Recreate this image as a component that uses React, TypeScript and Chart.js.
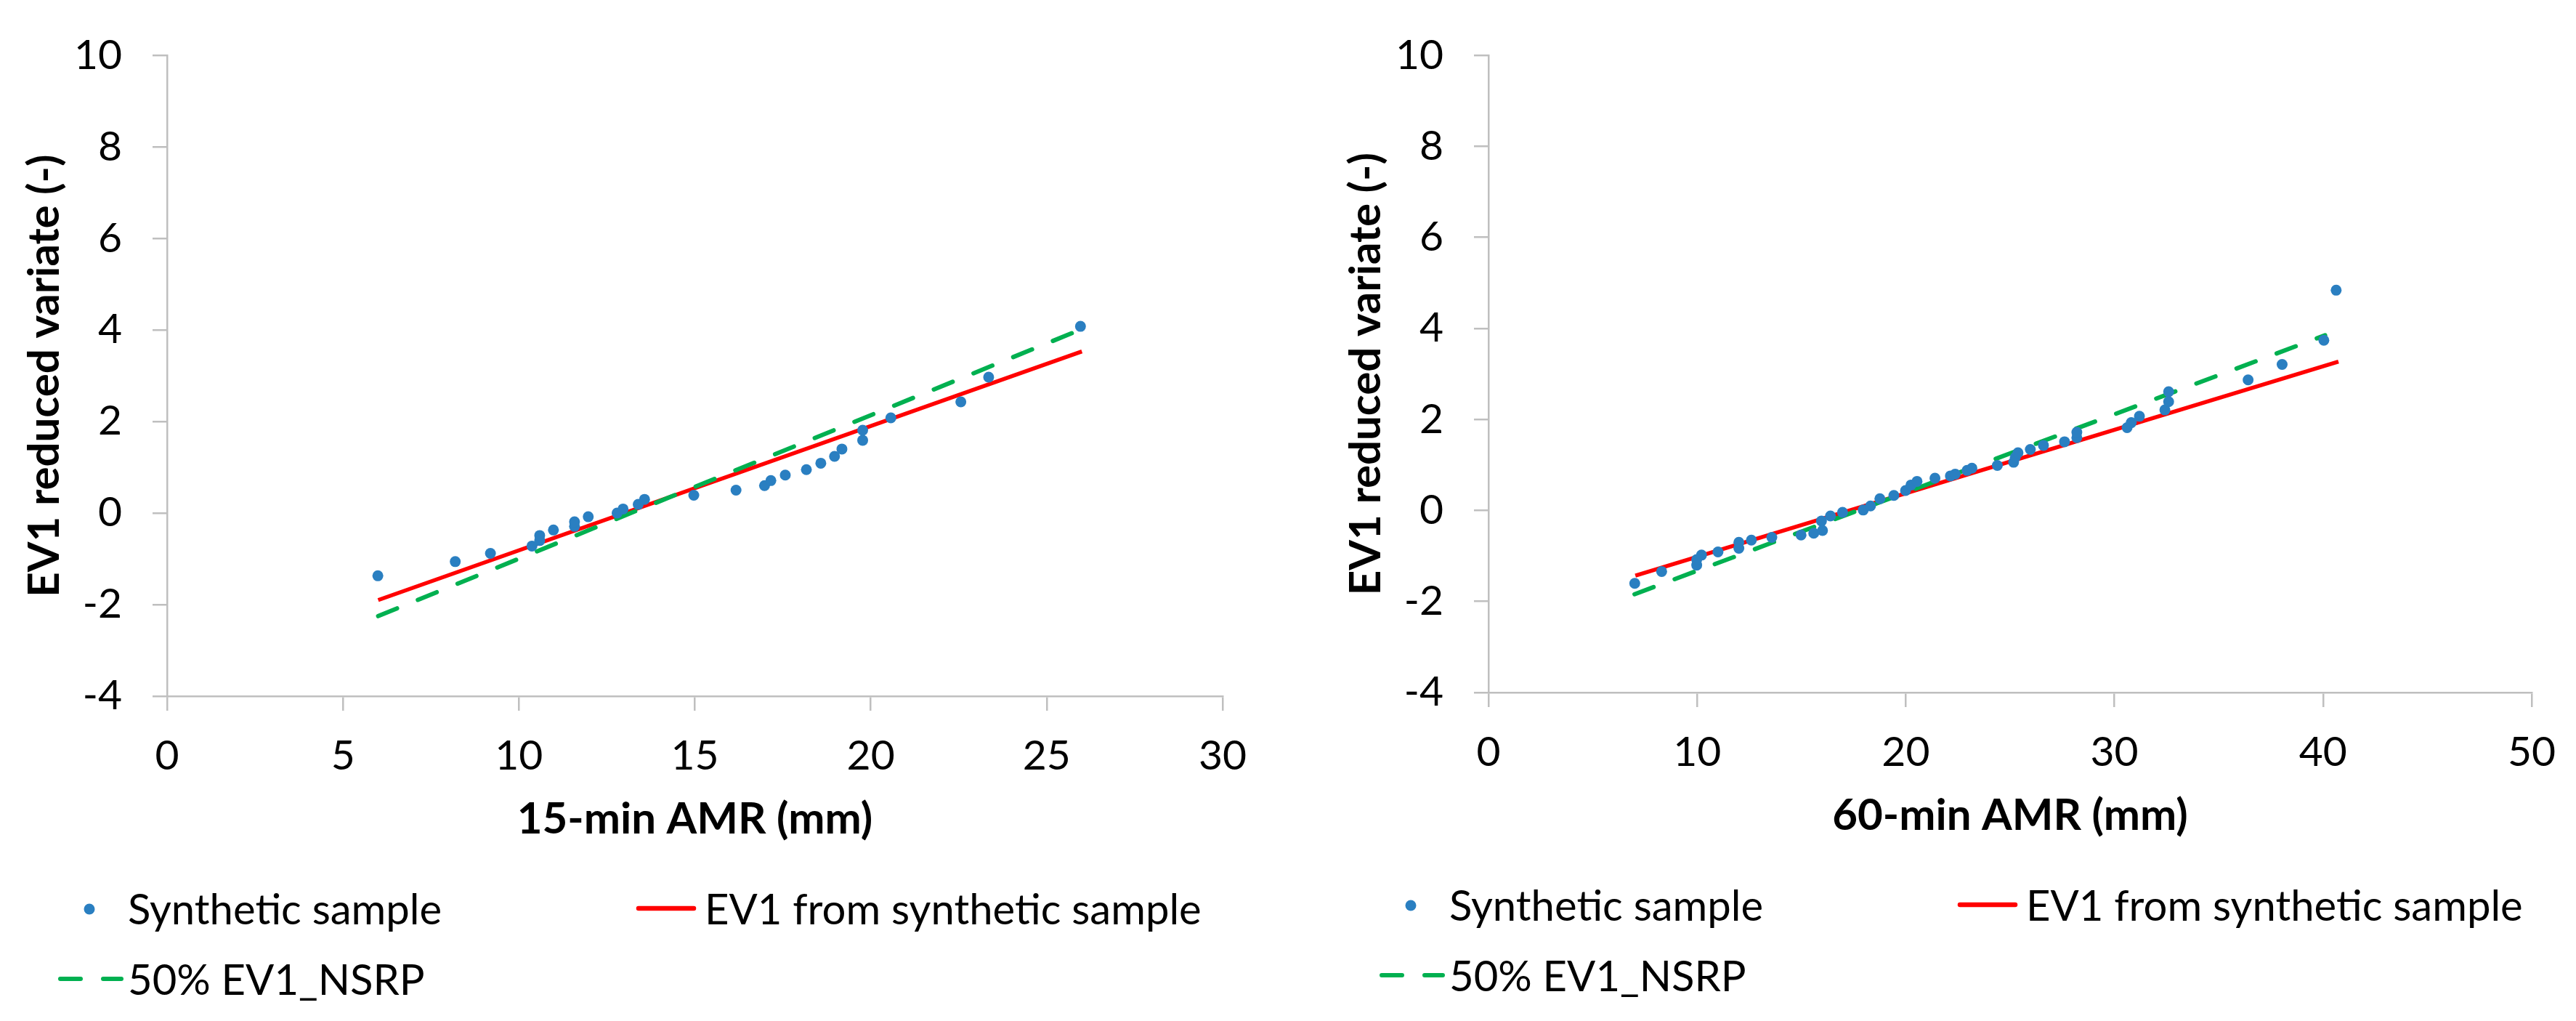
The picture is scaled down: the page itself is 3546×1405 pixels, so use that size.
// Two Excel-style Gumbel (EV1) plots side by side, drawn with Chart.js.
import { useEffect, useRef } from "react";
import { Chart, registerables } from "chart.js";

Chart.register(...registerables);

const FONT = "Lato, 'Open Sans', sans-serif";
const BLUE = "#2A7FC1";
const RED = "#FF0000";
const GREEN = "#00B050";
const AXIS = "#BFBFBF";
const W = 1773;
const H = 1405;

// ---- data ----
const legendLabels = ["Synthetic sample", "EV1 from synthetic sample", "50% EV1_NSRP"];
const yTicks = [-4, -2, 0, 2, 4, 6, 8, 10];

// 15-min
const amr15 = [5.99, 8.19, 9.19, 10.37, 10.59, 10.59, 10.98, 11.58, 11.58, 11.97, 12.79, 12.96, 13.39, 13.57, 14.97, 16.17, 16.98, 17.16, 17.57, 18.17, 18.58, 18.97, 19.18, 19.77, 19.77, 20.57, 22.56, 23.35, 25.96];
const ev15 = [-1.37, -1.06, -0.88, -0.72, -0.6, -0.49, -0.37, -0.29, -0.19, -0.08, 0.0, 0.09, 0.19, 0.3, 0.39, 0.5, 0.6, 0.71, 0.83, 0.95, 1.09, 1.24, 1.4, 1.59, 1.81, 2.08, 2.43, 2.97, 4.08];
const fit15X = [6, 26];
const fit15Y = [-1.9, 3.53];
const nsrp15X = [6, 26];
const nsrp15Y = [-2.25, 4.02];
const xTicks15 = [0, 5, 10, 15, 20, 25, 30];

// 60-min
const amr60 = [7.01, 8.3, 9.98, 9.98, 10.21, 11.0, 12.0, 12.0, 12.6, 13.58, 14.98, 15.59, 15.96, 16.01, 16.39, 16.97, 17.96, 18.31, 18.76, 19.43, 19.99, 20.25, 20.54, 21.4, 22.14, 22.37, 22.94, 23.17, 24.39, 25.17, 25.25, 25.38, 25.97, 26.6, 27.61, 28.2, 28.2, 30.61, 30.81, 31.2, 32.42, 32.6, 32.6, 36.41, 38.04, 40.04, 40.63];
const ev60 = [-1.6, -1.34, -1.2, -1.08, -0.98, -0.91, -0.83, -0.7, -0.65, -0.59, -0.54, -0.5, -0.23, -0.44, -0.12, -0.04, 0.01, 0.1, 0.26, 0.33, 0.44, 0.56, 0.64, 0.71, 0.76, 0.8, 0.88, 0.93, 0.99, 1.06, 1.17, 1.27, 1.34, 1.43, 1.51, 1.6, 1.72, 1.82, 1.93, 2.07, 2.21, 2.39, 2.61, 2.87, 3.21, 3.74, 4.84];
const fit60X = [7.04, 40.74];
const fit60Y = [-1.43, 3.27];
const nsrp60X = [7.0, 40.1];
const nsrp60Y = [-1.84, 3.85];
const xTicks60 = [0, 10, 20, 30, 40, 50];

const pts = (xs: number[], ys: number[]) => xs.map((x, i) => ({ x, y: ys[i] }));

// Excel-like legend: two columns, placed relative to the plot area
const excelLegend = {
  id: "excelLegend",
  afterDraw(chart: any) {
    const { ctx, chartArea: a } = chart;
    const ds = chart.data.datasets;
    const r1 = a.bottom + 292;
    const r2 = a.bottom + 389;
    ctx.save();
    ctx.font = `58px ${FONT}`;
    ctx.textBaseline = "middle";
    ctx.textAlign = "left";

    ctx.fillStyle = ds[0].backgroundColor;
    ctx.beginPath();
    ctx.arc(a.left - 107, r1 + 1, 7.5, 0, Math.PI * 2);
    ctx.fill();

    ctx.lineCap = "round";
    ctx.strokeStyle = ds[1].borderColor;
    ctx.lineWidth = 6.5;
    ctx.beginPath();
    ctx.moveTo(a.left + 649, r1);
    ctx.lineTo(a.left + 725, r1);
    ctx.stroke();

    ctx.strokeStyle = ds[2].borderColor;
    ctx.lineWidth = ds[2].borderWidth;
    ctx.setLineDash(ds[2].borderDash);
    ctx.beginPath();
    ctx.moveTo(a.left - 147, r2);
    ctx.lineTo(a.left - 63, r2);
    ctx.stroke();
    ctx.setLineDash([]);

    ctx.fillStyle = "#000";
    ctx.fillText(ds[0].label, a.left - 54, r1 + 3);
    ctx.fillText(ds[1].label, a.left + 740, r1 + 3);
    ctx.fillText(ds[2].label, a.left - 54, r2 + 3);
    ctx.restore();
  },
};

type Area = { left: number; right: number; top: number; bottom: number };

type PanelProps = {
  xs: number[];
  ys: number[];
  fitX: number[];
  fitY: number[];
  nsrpX: number[];
  nsrpY: number[];
  xTicks: number[];
  xTitle: string;
  area: Area;
};

function Panel({ xs, ys, fitX, fitY, nsrpX, nsrpY, xTicks, xTitle, area }: PanelProps) {
  const canvasRef = useRef<HTMLCanvasElement>(null);

  useEffect(() => {
    const el = canvasRef.current;
    if (!el) return;
    const tickFont = { family: FONT, size: 57 };
    const titleFont = { family: FONT, size: 60, weight: "bold" as const };
    const lh = 60 * 1.2;
    const grid = { drawOnChartArea: false, drawTicks: true, tickLength: 20, color: AXIS, lineWidth: 2.5 };
    const border = { display: true, color: AXIS, width: 2.5 };

    const chart = new Chart(el, {
      type: "scatter",
      data: {
        datasets: [
          {
            label: legendLabels[0],
            data: pts(xs, ys),
            backgroundColor: BLUE,
            borderWidth: 0,
            pointRadius: 7.5,
            pointHoverRadius: 7.5,
            order: 0,
          },
          {
            label: legendLabels[1],
            data: pts(fitX, fitY),
            showLine: true,
            borderColor: RED,
            borderWidth: 5.5,
            pointRadius: 0,
            order: 2,
          },
          {
            label: legendLabels[2],
            data: pts(nsrpX, nsrpY),
            showLine: true,
            borderColor: GREEN,
            borderWidth: 6,
            borderDash: [28, 31],
            borderCapStyle: "round",
            pointRadius: 0,
            order: 1,
          },
        ] as any,
      },
      options: {
        animation: false,
        responsive: false,
        devicePixelRatio: 1,
        events: [],
        layout: { padding: { left: 0, top: area.top, right: W - area.right, bottom: 0 } },
        plugins: { legend: { display: false }, tooltip: { enabled: false } },
        scales: {
          x: {
            type: "linear",
            min: xTicks[0],
            max: xTicks[xTicks.length - 1],
            ticks: { stepSize: xTicks[1] - xTicks[0], font: tickFont, color: "#000", padding: 28, maxRotation: 0, autoSkip: false },
            grid,
            border,
            title: {
              display: true,
              text: xTitle,
              font: titleFont,
              color: "#000",
              padding: { top: 0, bottom: H - (area.bottom + 170) - lh / 2 },
            },
            afterFit: (s: any) => {
              s.height = H - area.bottom;
            },
          },
          y: {
            type: "linear",
            min: yTicks[0],
            max: yTicks[yTicks.length - 1],
            ticks: { stepSize: yTicks[1] - yTicks[0], font: tickFont, color: "#000", padding: 42, autoSkip: false },
            grid,
            border,
            title: {
              display: true,
              text: "EV1 reduced variate (-)",
              font: titleFont,
              color: "#000",
              padding: { top: area.left - 168 - lh / 2, bottom: 0 },
            },
            afterFit: (s: any) => {
              s.width = area.left;
            },
          },
        },
      } as any,
      plugins: [excelLegend],
    });
    return () => chart.destroy();
  }, [xs, ys, fitX, fitY, nsrpX, nsrpY, xTicks, xTitle, area]);

  return <canvas ref={canvasRef} width={W} height={H} style={{ width: W, height: H, display: "block" }} />;
}

const AREA15: Area = { left: 230, right: 1683, top: 54, bottom: 958 };
const AREA60: Area = { left: 276, right: 1730, top: 41, bottom: 953 };

export default function App() {
  return (
    <div style={{ position: "absolute", left: 0, top: 0, width: W * 2, height: H, display: "flex", background: "#fff" }}>
      <Panel xs={amr15} ys={ev15} fitX={fit15X} fitY={fit15Y} nsrpX={nsrp15X} nsrpY={nsrp15Y} xTicks={xTicks15} xTitle="15-min AMR (mm)" area={AREA15} />
      <Panel xs={amr60} ys={ev60} fitX={fit60X} fitY={fit60Y} nsrpX={nsrp60X} nsrpY={nsrp60Y} xTicks={xTicks60} xTitle="60-min AMR (mm)" area={AREA60} />
    </div>
  );
}
